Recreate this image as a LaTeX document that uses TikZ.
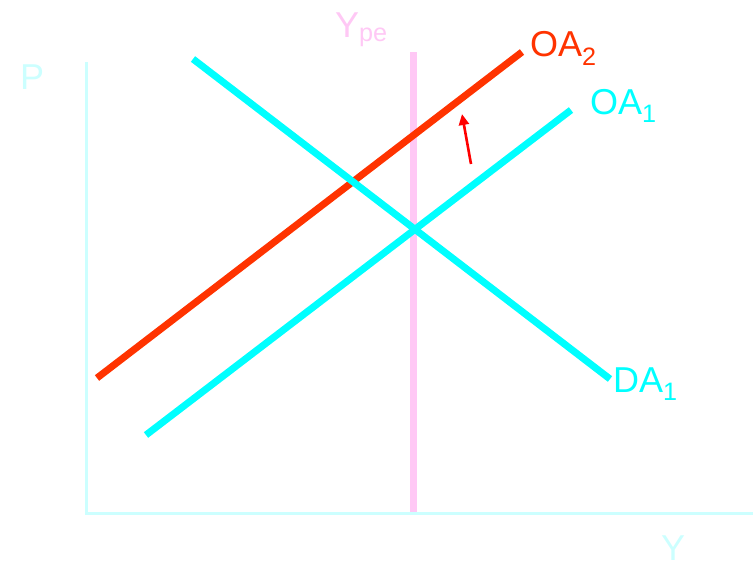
\documentclass[tikz,border=0pt]{standalone}
\usepackage{fontspec}
\setmainfont{Liberation Sans}
\usetikzlibrary{arrows.meta}
\definecolor{axiscyan}{HTML}{CCFFFF}
\definecolor{curvecyan}{HTML}{00FFFF}
\definecolor{curvered}{HTML}{FF3300}
\definecolor{ypink}{HTML}{FFC8F5}
\tikzset{
  curve/.style={line width=7pt},
  lbl/.style={anchor=base west,inner sep=0pt,font=\fontsize{36}{40}\selectfont}
}

\begin{document}
\begin{tikzpicture}[x=1pt,y=-1pt]
\useasboundingbox (0,0) rectangle (753,563);
%%%%%%%%%%%%%%%%%%%% axes %%%%%%%%%%%%%%%%%%%%
\coordinate (top) at (86.5,62);
\coordinate (orig) at (86.5,513);
\coordinate (right) at (753,513);
\draw[axiscyan,line width=3pt] (top) -- (orig.center) -- (right);
\node[lbl,text=axiscyan] (plbl) at (20,89) {P};
\node[lbl,text=axiscyan] (ylbl) at (661,560) {Y};
%%%%%%%%%%%%%%%%%%%% potential output $Y_{pe}$ %%%%%%%%%%%%%%%%%%%%
\coordinate (ype1) at (413.5,52);
\coordinate (ype0) at (413.5,512);
\draw[ypink,line width=6.5pt] (ype1) -- (ype0);
\node[lbl,text=ypink] (ypelbl) at (335,37) {Y\textsubscript{pe}};
%%%%%%%%%%%%%%%%%%%% supply curves %%%%%%%%%%%%%%%%%%%%
\coordinate (oa2s) at (97,378);
\coordinate (oa2e) at (522,52);
\draw[curve,curvered] (oa2s) -- (oa2e);
\node[lbl,text=curvered] (oa2lbl) at (530,56) {OA\textsubscript{2}};
\coordinate (oa1s) at (146,435);
\coordinate (oa1e) at (571,110);
\draw[curve,curvecyan] (oa1s) -- (oa1e);
\node[lbl,text=curvecyan] (oa1lbl) at (590,114) {OA\textsubscript{1}};
%%%%%%%%%%%%%%%%%%%% demand curve %%%%%%%%%%%%%%%%%%%%
\coordinate (da1s) at (193,59);
\coordinate (da1e) at (610,379);
\draw[curve,curvecyan] (da1s) -- (da1e);
\node[lbl,text=curvecyan] (da1lbl) at (613,392) {DA\textsubscript{1}};
%%%%%%%%%%%%%%%%%%%% shift %%%%%%%%%%%%%%%%%%%%
\coordinate (shift0) at (471,164);
\coordinate (shift1) at (462,114);
\draw[red,line width=2.6pt,-{Triangle[length=11pt,width=10pt]}] (shift0) -- (shift1);
\end{tikzpicture}
\end{document}
